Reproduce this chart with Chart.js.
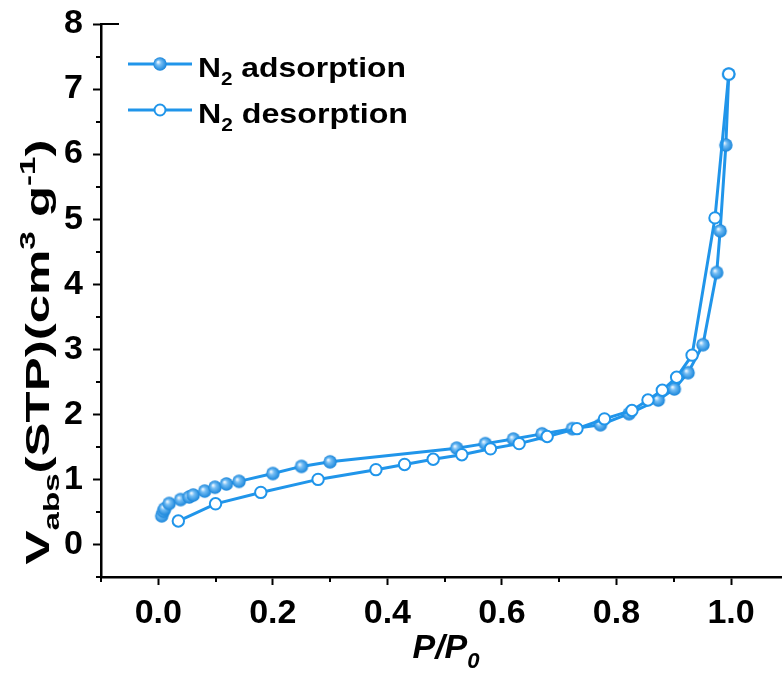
<!DOCTYPE html>
<html>
<head>
<meta charset="utf-8">
<script src="https://cdn.jsdelivr.net/npm/chart.js@4.4.0/dist/chart.umd.min.js"></script>
<style>
  html, body { margin: 0; padding: 0; background: #fff; }
  #wrap { width: 782px; height: 675px; }
</style>
</head>
<body>
<div id="wrap"><canvas id="chart" width="782" height="675"></canvas></div>
<script>
// N2 adsorption branch (P/P0, volume)
const adsorptionX = [0.006, 0.009, 0.011, 0.019, 0.039, 0.054, 0.061, 0.081, 0.099, 0.119, 0.141,
    0.200, 0.250, 0.300, 0.521, 0.571, 0.620, 0.670, 0.723, 0.772, 0.822, 0.873, 0.901, 0.925,
    0.951, 0.975, 0.981, 0.991, 0.996];
const adsorptionY = [0.44, 0.51, 0.55, 0.63, 0.69, 0.73, 0.76, 0.82, 0.88, 0.93, 0.97,
    1.09, 1.20, 1.27, 1.48, 1.55, 1.62, 1.70, 1.78, 1.84, 2.01, 2.22, 2.39, 2.64,
    3.07, 4.18, 4.82, 6.14, 7.23];

// N2 desorption branch
const desorptionX = [0.996, 0.972, 0.932, 0.905, 0.880, 0.855, 0.827, 0.779, 0.731, 0.679,
    0.630, 0.580, 0.530, 0.480, 0.430, 0.380, 0.279, 0.179, 0.100, 0.035];
const desorptionY = [7.23, 5.02, 2.91, 2.57, 2.37, 2.22, 2.06, 1.93, 1.78, 1.66,
    1.55, 1.47, 1.38, 1.31, 1.23, 1.15, 1.00, 0.80, 0.625, 0.36];

const xTicks = [0, 0.2, 0.4, 0.6, 0.8, 1.0];
const xMinorTicks = [-0.1, 0.1, 0.3, 0.5, 0.7, 0.9];
const yTicks = [0, 1, 2, 3, 4, 5, 6, 7, 8];
const yMinorTicks = [-0.5, 0.5, 1.5, 2.5, 3.5, 4.5, 5.5, 6.5, 7.5];

const BLUE = '#2095ea';
const FONT = '"Liberation Sans", Arial, Helvetica, sans-serif';

function toPoints(xs, ys) {
    return xs.map((x, i) => ({ x: x, y: ys[i] }));
}

// shaded sphere marker for the adsorption points
function makeBall(r) {
    const c = document.createElement('canvas');
    const size = Math.ceil(r * 2) + 2;
    c.width = size;
    c.height = size;
    const g = c.getContext('2d');
    const m = size / 2;
    const grad = g.createRadialGradient(m - r * 0.3, m - r * 0.3, r * 0.05, m, m, r);
    grad.addColorStop(0, '#f2f9ff');
    grad.addColorStop(0.35, '#74bdf4');
    grad.addColorStop(1, '#1684da');
    g.fillStyle = grad;
    g.beginPath();
    g.arc(m, m, r, 0, Math.PI * 2);
    g.fill();
    return c;
}
const ball = makeBall(6.7);

// draw a run of [text, kind] pieces; kind: 'n' normal, 'sub', 'sup'
function drawRich(ctx, parts, x, y, size, italic) {
    const style = (italic ? 'italic ' : '') + 'bold ';
    let cx = x;
    parts.forEach(([txt, kind]) => {
        let fs = size, dy = 0;
        if (kind === 'sub') { fs = size * 0.65; dy = size * 0.3; }
        if (kind === 'sup') { fs = size * 0.65; dy = -size * 0.4; }
        ctx.font = style + fs + 'px ' + FONT;
        ctx.fillText(txt, cx, y + dy);
        cx += ctx.measureText(txt).width;
    });
    return cx - x;
}
function richWidth(ctx, parts, size, italic) {
    const style = (italic ? 'italic ' : '') + 'bold ';
    let w = 0;
    parts.forEach(([txt, kind]) => {
        const fs = kind === 'n' ? size : size * 0.65;
        ctx.font = style + fs + 'px ' + FONT;
        w += ctx.measureText(txt).width;
    });
    return w;
}

const decorations = {
    id: 'decorations',
    afterDraw(chart) {
        const ctx = chart.ctx;
        const xs = chart.scales.x, ys = chart.scales.y;
        const area = chart.chartArea;
        ctx.save();

        // minor ticks
        ctx.strokeStyle = '#000';
        ctx.lineWidth = 2;
        xMinorTicks.forEach(v => {
            const px = Math.round(xs.getPixelForValue(v));
            ctx.beginPath();
            ctx.moveTo(px, area.bottom);
            ctx.lineTo(px, area.bottom + 5);
            ctx.stroke();
        });
        yMinorTicks.forEach(v => {
            const py = Math.round(ys.getPixelForValue(v));
            ctx.beginPath();
            ctx.moveTo(area.left, py);
            ctx.lineTo(area.left - 5, py);
            ctx.stroke();
        });
        // small cap at the top of the y axis
        ctx.beginPath();
        ctx.moveTo(area.left, area.top);
        ctx.lineTo(area.left + 18, area.top);
        ctx.stroke();

        // legend
        const rows = [
            { y: 64, parts: [['N', 'n'], ['2', 'sub'], [' adsorption', 'n']], filled: true },
            { y: 110, parts: [['N', 'n'], ['2', 'sub'], [' desorption', 'n']], filled: false }
        ];
        rows.forEach(row => {
            ctx.strokeStyle = BLUE;
            ctx.lineWidth = 3;
            ctx.beginPath();
            ctx.moveTo(128, row.y);
            ctx.lineTo(192, row.y);
            ctx.stroke();
            if (row.filled) {
                ctx.drawImage(ball, 160 - ball.width / 2, row.y - ball.height / 2);
            } else {
                ctx.fillStyle = '#fff';
                ctx.lineWidth = 2;
                ctx.beginPath();
                ctx.arc(160, row.y, 5.5, 0, Math.PI * 2);
                ctx.fill();
                ctx.stroke();
            }
            ctx.fillStyle = '#000';
            ctx.textBaseline = 'alphabetic';
            ctx.textAlign = 'left';
            const w = richWidth(ctx, row.parts, 28, false);
            const target = row.filled ? 208 : 210;
            ctx.save();
            ctx.translate(198, row.y + 13);
            ctx.scale(target / w, 1);
            drawRich(ctx, row.parts, 0, 0, 28, false);
            ctx.restore();
        });

        // x axis title
        const xt = [['P/P', 'n'], ['0', 'sub']];
        const xw = richWidth(ctx, xt, 34, true);
        ctx.fillStyle = '#000';
        drawRich(ctx, xt, 446 - xw / 2, 658, 34, true);

        // y axis title, stretched along its length like the original
        const yt = [['V', 'n'], ['abs', 'sub'], ['(STP)(cm', 'n'], ['3', 'sup'], [' g', 'n'], ['-1', 'sup'], [')', 'n']];
        const yw = richWidth(ctx, yt, 34, false);
        ctx.translate(36, 352);
        ctx.rotate(-Math.PI / 2);
        ctx.scale(425 / yw, 1);
        drawRich(ctx, yt, -yw / 2, 13, 34, false);

        ctx.restore();
    }
};

const tickFont = { family: FONT, size: 34, weight: 'bold' };

new Chart(document.getElementById('chart'), {
    type: 'scatter',
    data: {
        datasets: [
            {
                label: 'N2 desorption',
                data: toPoints(desorptionX, desorptionY),
                showLine: true,
                borderColor: BLUE,
                borderWidth: 3,
                pointStyle: 'circle',
                pointRadius: 5.7,
                pointBorderWidth: 2,
                pointBackgroundColor: '#fff',
                pointBorderColor: BLUE,
                order: 0
            },
            {
                label: 'N2 adsorption',
                data: toPoints(adsorptionX, adsorptionY),
                showLine: true,
                borderColor: BLUE,
                borderWidth: 3,
                pointStyle: ball,
                pointRadius: 6.7,
                order: 1
            }
        ]
    },
    options: {
        responsive: false,
        animation: false,
        devicePixelRatio: 1,
        layout: { autoPadding: false, padding: { top: 24, right: 0, left: 0, bottom: 0 } },
        plugins: {
            legend: { display: false },
            tooltip: { enabled: false }
        },
        scales: {
            x: {
                type: 'linear',
                min: -0.1,
                max: 1.089,
                afterBuildTicks: s => { s.ticks = xTicks.map(v => ({ value: v })); },
                afterFit: s => { s.height = 98; s.paddingLeft = 0; s.paddingRight = 0; },
                grid: { drawOnChartArea: false, tickLength: 8, tickWidth: 2, tickColor: '#000' },
                border: { display: true, color: '#000', width: 2.5 },
                ticks: {
                    autoSkip: false, maxRotation: 0, padding: 8,
                    color: '#000', font: tickFont,
                    callback: v => Number(v).toFixed(1)
                }
            },
            y: {
                type: 'linear',
                min: -0.5,
                max: 8,
                afterBuildTicks: s => { s.ticks = yTicks.map(v => ({ value: v })); },
                afterFit: s => { s.width = 101; s.paddingTop = 0; s.paddingBottom = 0; },
                grid: { drawOnChartArea: false, tickLength: 8, tickWidth: 2, tickColor: '#000' },
                border: { display: true, color: '#000', width: 2.5 },
                ticks: {
                    autoSkip: false, padding: 10,
                    color: '#000', font: tickFont,
                    callback: v => String(v)
                }
            }
        }
    },
    plugins: [decorations]
});
</script>
</body>
</html>
